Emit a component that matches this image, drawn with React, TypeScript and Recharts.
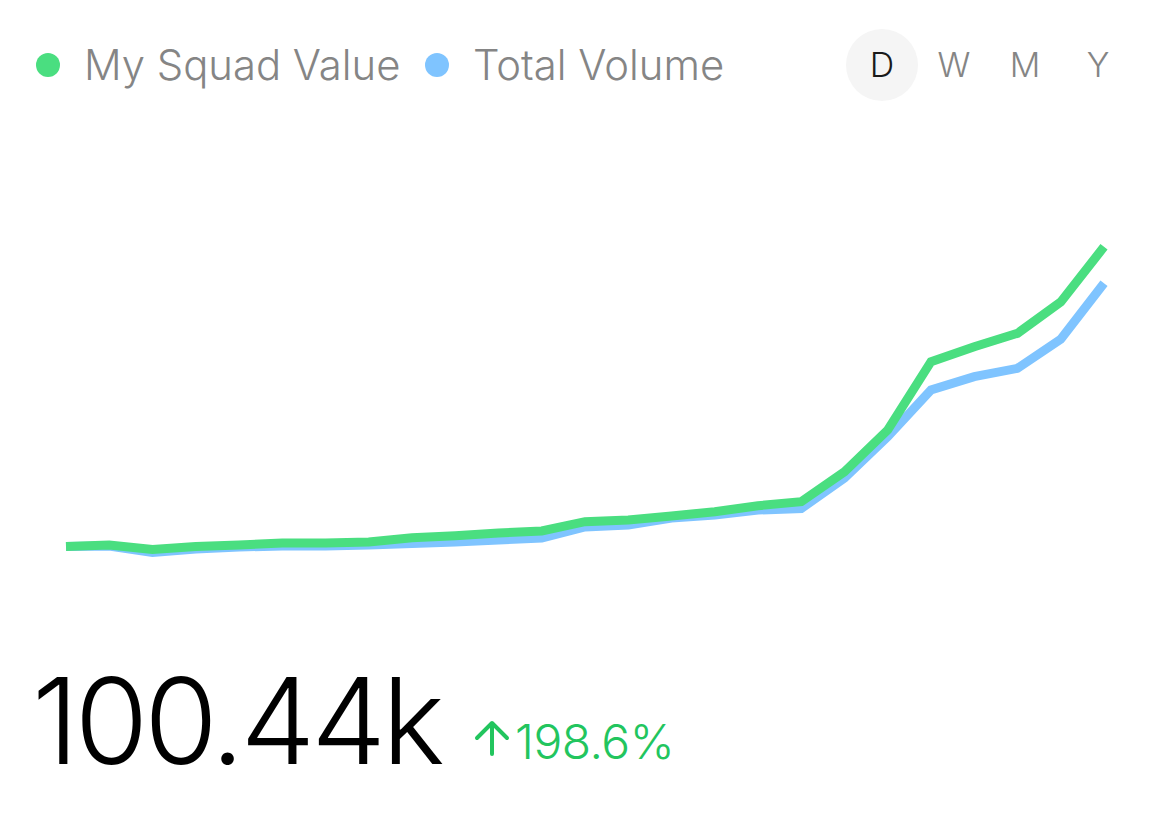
import React from 'react';
import { LineChart, Line, XAxis, YAxis, Legend } from 'recharts';

const categories = [
  'd1', 'd2', 'd3', 'd4', 'd5', 'd6', 'd7', 'd8', 'd9', 'd10', 'd11', 'd12', 'd13',
  'd14', 'd15', 'd16', 'd17', 'd18', 'd19', 'd20', 'd21', 'd22', 'd23', 'd24', 'd25',
];
const squadValue = [
  12.73, 13.17, 11.85, 12.73, 13.17, 13.76, 13.76, 14.05, 15.31, 15.89, 16.68, 17.27, 19.99,
  20.49, 21.66, 22.92, 24.67, 25.84, 34.62, 46.83, 66.82, 71.21, 75.13, 84.29, 100.44,
];
const totalVolume = [
  12.73, 12.88, 10.98, 12.0, 12.59, 12.88, 12.88, 13.17, 13.61, 14.05, 14.63, 15.22, 18.44,
  19.02, 21.07, 21.95, 23.41, 23.85, 32.78, 44.87, 58.54, 62.43, 64.89, 73.38, 89.76,
];
const periods = ['D', 'W', 'M', 'Y'];
const periodCenters = [882, 954, 1025, 1098];

const data = categories.map((day, i) => ({
  day,
  squad: squadValue[i],
  volume: totalVolume[i],
}));

const FONT = 'Inter, sans-serif';

const renderLegend = (props: any) => (
  <div style={{ position: 'relative', width: 760, height: 60 }}>
    {props.payload.map((item: any, i: number) => (
      <div
        key={item.value}
        style={{
          position: 'absolute',
          left: i === 0 ? 36 : 425,
          top: 0,
          height: 60,
          display: 'flex',
          alignItems: 'center',
          whiteSpace: 'nowrap',
        }}
      >
        <span
          style={{ width: 24, height: 24, borderRadius: 12, background: item.color, marginRight: 24 }}
        />
        <span style={{ fontFamily: FONT, fontWeight: 300, fontSize: 41.8, color: '#858585' }}>
          {item.value}
        </span>
      </div>
    ))}
  </div>
);

const App: React.FC = () => {
  return (
    <div
      style={{
        position: 'absolute',
        left: 0,
        top: 0,
        width: 1165,
        height: 825,
        background: '#fff',
        overflow: 'hidden',
        fontFamily: FONT,
      }}
    >
      <LineChart
        width={1165}
        height={825}
        data={data}
        margin={{ top: 120, right: 61, bottom: 235, left: 66 }}
      >
        <XAxis dataKey="day" hide />
        <YAxis hide domain={[0, 120]} />
        <Legend
          content={renderLegend}
          verticalAlign="top"
          align="left"
          wrapperStyle={{ left: 0, top: 35, width: 760 }}
        />
        <Line
          type="linear"
          dataKey="volume"
          name="Total Volume"
          stroke="#7fc4ff"
          strokeWidth={9}
          dot={false}
          isAnimationActive={false}
        />
        <Line
          type="linear"
          dataKey="squad"
          name="My Squad Value"
          stroke="#4ade80"
          strokeWidth={9}
          dot={false}
          isAnimationActive={false}
        />
      </LineChart>

      <div
        style={{
          position: 'absolute',
          left: 846,
          top: 29,
          width: 72,
          height: 72,
          borderRadius: 36,
          background: '#f5f5f5',
        }}
      />
      {periods.map((p, i) => (
        <div
          key={p}
          style={{
            position: 'absolute',
            left: periodCenters[i] - 36,
            top: 29,
            width: 72,
            height: 72,
            lineHeight: '72px',
            textAlign: 'center',
            fontWeight: 300,
            fontSize: 34,
            color: i === 0 ? '#1a1a1a' : '#858585',
          }}
        >
          {p}
        </div>
      ))}

      <div
        style={{
          position: 'absolute',
          left: 32,
          top: 651,
          lineHeight: '140px',
          fontWeight: 300,
          fontSize: 119,
          letterSpacing: -4,
          color: '#000',
          whiteSpace: 'nowrap',
        }}
      >
        100.44k
      </div>
      <svg style={{ position: 'absolute', left: 470, top: 716 }} width={44} height={44}>
        <path d="M22 38 V8 M7 22 L22 7 L37 22" fill="none" stroke="#22c55e" strokeWidth={4} strokeLinecap="round" strokeLinejoin="round" />
      </svg>
      <div
        style={{
          position: 'absolute',
          left: 515,
          top: 710,
          lineHeight: '64px',
          fontWeight: 300,
          fontSize: 48,
          letterSpacing: -0.5,
          color: '#22c55e',
          whiteSpace: 'nowrap',
        }}
      >
        198.6%
      </div>
    </div>
  );
};

export default App;
